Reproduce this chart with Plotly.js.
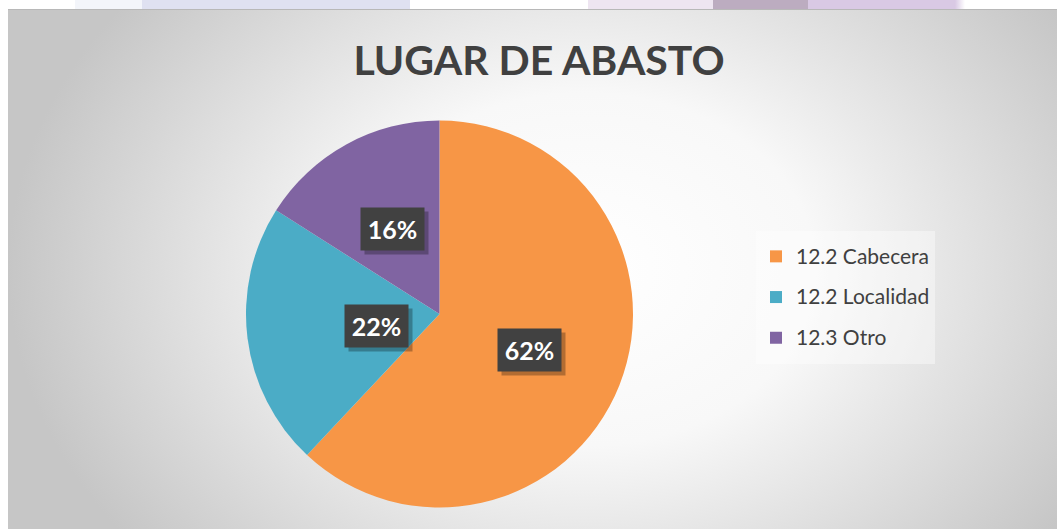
<!DOCTYPE html>
<html>
<head>
<meta charset="utf-8">
<script src="https://cdn.plot.ly/plotly-3.0.1.min.js"></script>
<style>
  html, body { margin: 0; padding: 0; background: #ffffff; width: 1057px; height: 529px; overflow: hidden; }
  #strip { position: absolute; left: 0; top: 0; width: 1057px; height: 9px;
    background: linear-gradient(to right, #ffffff 0px, #ffffff 75px, #f3f5fa 75px, #f3f5fa 142px,
      #dfe1f1 142px, #dfe1f1 410px, #ffffff 410px, #ffffff 588px, #eee5f1 588px, #eee5f1 713px,
      #bcacc0 713px, #bcacc0 808px, #d9c9e4 808px, #d9c9e4 955px, #ffffff 965px); }
  #bg { position: absolute; left: 8px; top: 9px; width: 1049px; height: 520px;
    border-top: 1px solid #b8b8b8; box-sizing: border-box;
    background: radial-gradient(ellipse 55% 85% at 55% 50%, #ffffff 0%, #f8f8f8 40%, #c6c6c6 100%); }
  #chart { position: absolute; left: 0; top: 0; width: 1057px; height: 529px; }
</style>
</head>
<body>
<div id="strip"></div>
<div id="bg"></div>
<div id="chart"></div>
<script>
// ---- data ----
const categories = ["12.2 Cabecera", "12.2 Localidad", "12.3 Otro"];
const values = [62, 22, 16];
const sliceColors = ["#F79646", "#4BACC6", "#8064A2"];
const chartTitle = "LUGAR DE ABASTO";

// ---- layout constants ----
const W = 1057, H = 529;
const pieDomain = { x: [246 / W, 633 / W], y: [21.5 / H, 408.5 / H] };

const total = values.reduce((a, b) => a + b, 0);
const cx = (pieDomain.x[0] + pieDomain.x[1]) / 2;
const cy = (pieDomain.y[0] + pieDomain.y[1]) / 2;
const rPx = Math.min((pieDomain.x[1] - pieDomain.x[0]) * W, (pieDomain.y[1] - pieDomain.y[0]) * H) / 2;

// labels placed at half radius along each slice's mid-angle (clockwise from 12 o'clock)
const annotations = [];
let cum = 0;
values.forEach((v, i) => {
  const mid = (cum + v / 2) / total * 2 * Math.PI;
  cum += v;
  const x = cx + 0.5 * rPx * Math.sin(mid) / W;
  const y = cy + 0.5 * rPx * Math.cos(mid) / H;
  const txt = Math.round(v / total * 100) + "%";
  // drop shadow box
  annotations.push({
    x: x, y: y, xref: "paper", yref: "paper", showarrow: false,
    text: " ", xshift: 4, yshift: -4,
    font: { family: "Lato", size: 24, color: "rgba(0,0,0,0)" },
    bgcolor: "rgba(0,0,0,0.28)", borderpad: 5, width: 53, height: 32
  });
  annotations.push({
    x: x, y: y, xref: "paper", yref: "paper", showarrow: false,
    text: "<b>" + txt + "</b>",
    font: { family: "Lato", size: 25, color: "#ffffff" },
    bgcolor: "#414141", borderpad: 5, width: 53, height: 32
  });
});

const trace = {
  type: "pie",
  labels: categories.map(c => '<span style="font-size:21px;baseline-shift:4px">' + c + '</span>'),
  values: values,
  sort: false,
  direction: "clockwise",
  rotation: 0,
  domain: pieDomain,
  marker: { colors: sliceColors, line: { width: 0 } },
  textinfo: "none",
  hoverinfo: "none"
};

const layout = {
  width: W, height: H,
  margin: { l: 0, r: 0, t: 0, b: 0 },
  paper_bgcolor: "rgba(0,0,0,0)",
  plot_bgcolor: "rgba(0,0,0,0)",
  title: {
    text: "<b>" + chartTitle + "</b>",
    font: { family: "Lato", size: 41, color: "#404040" },
    x: 539 / W, xanchor: "center", xref: "container",
    y: (H - 61) / H, yanchor: "middle", yref: "container"
  },
  showlegend: true,
  legend: {
    x: 756 / W, xanchor: "left",
    y: 1 - 231 / H, yanchor: "top",
    bgcolor: "rgba(255,255,255,0.4)",
    font: { family: "Lato", size: 29, color: "#404040" },
    itemclick: false, itemdoubleclick: false
  },
  annotations: annotations
};

Plotly.newPlot("chart", [trace], layout, { staticPlot: true, displayModeBar: false });
</script>
</body>
</html>
